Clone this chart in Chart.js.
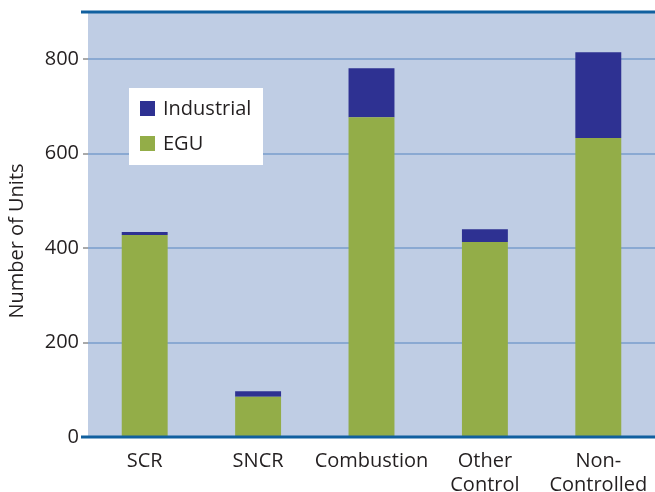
<!DOCTYPE html>
<html>
<head>
<meta charset="utf-8">
<script src="https://cdn.jsdelivr.net/npm/chart.js@4/dist/chart.umd.min.js"></script>
<style>
html,body{margin:0;padding:0;background:#fff;}
#wrap{width:655px;height:492px;position:relative;}
</style>
</head>
<body>
<div id="wrap"><canvas id="c" width="655" height="492"></canvas></div>
<script>
const categories = ["SCR", "SNCR", "Combustion", ["Other", "Control"], ["Non-", "Controlled"]];
const egu = [428, 85, 677, 413, 633];
const industrial = [6, 12, 104, 27, 182];
const yTicks = [0, 200, 400, 600, 800];
const yTitle = "Number of Units";

const FONT = "'Open Sans', Lato, sans-serif";
const TXT = "#231f20";

const bgPlugin = {
  id: 'bgPlugin',
  beforeDraw(chart) {
    const {ctx, chartArea: a} = chart;
    ctx.save();
    ctx.fillStyle = '#bfcde4';
    ctx.fillRect(a.left, a.top, a.right - a.left, a.bottom - a.top);
    ctx.restore();
  },
  afterDatasetsDraw(chart) {
    const {ctx, chartArea: a} = chart;
    const y = chart.scales.y;
    ctx.save();
    ctx.strokeStyle = '#11609f';
    ctx.lineWidth = 3;
    ctx.beginPath();
    ctx.moveTo(a.left - 7, a.top);
    ctx.lineTo(chart.width, a.top);
    const y0 = y.getPixelForValue(0);
    ctx.moveTo(a.left - 7, y0);
    ctx.lineTo(chart.width, y0);
    ctx.stroke();
    // y title
    ctx.save();
    ctx.translate(17, y.getPixelForValue(415));
    ctx.rotate(-Math.PI / 2);
    ctx.font = "20px " + FONT;
    ctx.fillStyle = TXT;
    ctx.textAlign = 'center';
    ctx.textBaseline = 'middle';
    ctx.fillText(yTitle, 0, 0);
    ctx.restore();
    // legend
    const lx = a.left + 41, ly = a.top + 76;
    ctx.fillStyle = '#ffffff';
    ctx.fillRect(lx, ly, 134, 77);
    const items = [chart.data.datasets[1], chart.data.datasets[0]];
    ctx.font = "20px " + FONT;
    ctx.textBaseline = 'middle';
    items.forEach((ds, i) => {
      const sy = ly + 13 + i * 35;
      ctx.fillStyle = ds.backgroundColor;
      ctx.fillRect(lx + 11, sy, 15, 15);
      ctx.fillStyle = TXT;
      ctx.fillText(ds.label, lx + 34, sy + 8);
    });
    ctx.restore();
  }
};

new Chart(document.getElementById('c'), {
  type: 'bar',
  data: {
    labels: categories,
    datasets: [
      {label: 'EGU', data: egu, backgroundColor: '#93ad48', categoryPercentage: 1, barPercentage: 0.405},
      {label: 'Industrial', data: industrial, backgroundColor: '#2e3192', categoryPercentage: 1, barPercentage: 0.405}
    ]
  },
  options: {
    responsive: false,
    animation: false,
    layout: {padding: {top: 12, right: 0, left: 0, bottom: 0}},
    plugins: {legend: {display: false}, tooltip: {enabled: false}},
    scales: {
      x: {
        stacked: true,
        grid: {display: false, drawTicks: false},
        border: {display: false},
        afterFit(s) { s.height = 55; s.paddingLeft = 0; s.paddingRight = 0; },
        ticks: {
          color: TXT,
          font: {family: FONT, size: 20, lineHeight: 1.2},
          padding: 12,
          maxRotation: 0,
          autoSkip: false
        }
      },
      y: {
        stacked: true,
        min: 0,
        max: 900,
        afterBuildTicks(s) { s.ticks = yTicks.map(v => ({value: v})); },
        afterFit(s) { s.width = 88; s.paddingTop = 0; s.paddingBottom = 0; },
        border: {display: false},
        grid: {color: '#8aa9d2', lineWidth: 2, tickColor: '#555555', tickLength: 5, tickWidth: 1},
        ticks: {color: TXT, font: {family: FONT, size: 20}, padding: 4},
        title: {display: false}
      }
    }
  },
  plugins: [bgPlugin]
});
</script>
</body>
</html>
